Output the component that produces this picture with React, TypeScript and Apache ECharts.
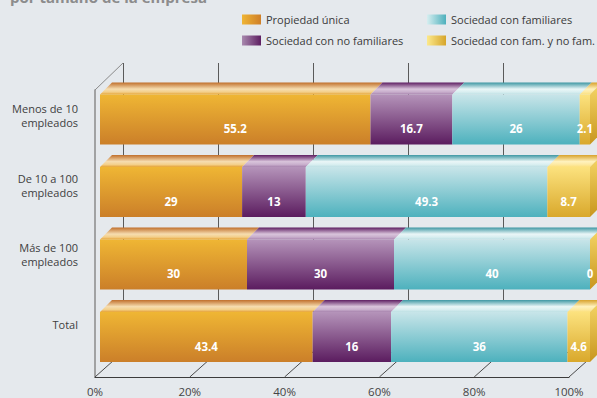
import React, { useEffect, useRef } from 'react';
import * as echarts from 'echarts';

const title = 'por tamaño de la empresa';
const categories = ['Menos de 10\nempleados', 'De 10 a 100\nempleados', 'Más de 100\nempleados', 'Total'];
const seriesNames = ['Propiedad única', 'Sociedad con no familiares', 'Sociedad con familiares', 'Sociedad con fam. y no fam.'];
const propiedadUnica = [55.2, 29, 30, 43.4];
const sociedadNoFamiliares = [16.7, 13, 30, 16];
const sociedadFamiliares = [26, 49.3, 40, 36];
const sociedadMixta = [2.1, 8.7, 0, 4.6];
const xTicks = [0, 20, 40, 60, 80, 100];

const FONT = '"Open Sans", "Noto Sans", sans-serif';
const DEPTH = 12;

const palettes = [
  { front: ['#EFB634', '#CB7F29'], top: ['#C06F2C', '#F6DDB0', '#F3CF8A', '#E6A437'], legend: ['#EFB535', '#CF7F28'] },
  { front: ['#B594BA', '#5B1C5F'], top: ['#5E1E62', '#D9C4DB', '#C8AECC', '#A884AE'], legend: ['#A889AE', '#5E1F62'] },
  { front: ['#C8E5E9', '#4DB1BD'], top: ['#3E97A3', '#EAF6F7', '#D8EEF0', '#BEE0E4'], legend: ['#D6EEF0', '#4DB0BC'] },
  { front: ['#FCE27E', '#D9A82B'], top: ['#D8A22C', '#FFF2BE', '#FDE9A0', '#FCE07C'], legend: ['#FCE98C', '#D6A52A'] },
];
const sideColors = ['#F6D768', '#C8961E'];

function vGrad(stops: string[]) {
  const n = stops.length - 1;
  return new echarts.graphic.LinearGradient(0, 0, 0, 1, stops.map((c, i) => ({ offset: n === 3 && i === 1 ? 0.55 : n === 3 && i === 2 ? 0.8 : i / n, color: c })));
}

function makeRender(pi: number, isLast: boolean) {
  return (params: any, api: any) => {
    const start = api.value(0);
    const end = api.value(1);
    const cat = api.value(2);
    const val = api.value(3);
    const a = api.coord([start, cat]);
    const b = api.coord([end, cat]);
    const band = api.size([0, 1])[1];
    const h = band * 0.69;
    const x0 = a[0];
    const x1 = b[0];
    const yT = a[1] - h / 2;
    const yB = a[1] + h / 2;
    const pal = palettes[pi];
    const children: any[] = [];
    children.push({
      type: 'polygon',
      shape: { points: [[x0, yT], [x1, yT], [x1 + DEPTH, yT - DEPTH], [x0 + DEPTH, yT - DEPTH]] },
      style: { fill: vGrad(pal.top) },
    });
    children.push({
      type: 'rect',
      shape: { x: x0, y: yT, width: Math.max(0, x1 - x0), height: h },
      style: { fill: vGrad(pal.front) },
    });
    if (isLast) {
      children.push({
        type: 'polygon',
        shape: { points: [[x1, yT], [x1 + DEPTH, yT - DEPTH], [x1 + DEPTH, yB - DEPTH], [x1, yB]] },
        style: { fill: vGrad(sideColors) },
      });
    }
    children.push({
      type: 'text',
      x: (x0 + x1) / 2,
      y: yT + h * 0.68,
      style: {
        text: String(val),
        fill: '#ffffff',
        fontSize: 11.5,
        fontWeight: 'bold',
        fontFamily: FONT,
        align: 'center',
        verticalAlign: 'middle',
      },
    });
    return { type: 'group', children };
  };
}

export default function App() {
  const ref = useRef<HTMLDivElement>(null);
  useEffect(() => {
    if (!ref.current) return;
    const chart = echarts.init(ref.current, null, { renderer: 'svg' });
    const valuesBySeries = [propiedadUnica, sociedadNoFamiliares, sociedadFamiliares, sociedadMixta];
    const cum = categories.map(() => 0);
    const barSeries = valuesBySeries.map((vals, si) => {
      const data = vals.map((v, ci) => {
        const s = cum[ci];
        cum[ci] += v;
        return [s, s + v, ci, v];
      });
      return {
        type: 'custom',
        name: seriesNames[si],
        xAxisIndex: 2,
        yAxisIndex: 2,
        z: 3,
        silent: true,
        itemStyle: {
          color: new echarts.graphic.LinearGradient(0, 0, 1, 0, [
            { offset: 0, color: palettes[si].legend[0] },
            { offset: 1, color: palettes[si].legend[1] },
          ]),
        },
        encode: { x: [0, 1], y: 2 },
        renderItem: makeRender(si, si === valuesBySeries.length - 1),
        data,
      };
    });

    const frameData = [...xTicks.map((t) => [t, 0]), [0, 1]];

    const legendCommon = {
      itemWidth: 19,
      itemHeight: 10,
      itemGap: 6,
      icon: 'rect',
      selectedMode: false,
      textStyle: { fontSize: 11, color: '#3a3a3a', fontFamily: FONT },
    };
    const legendSlots = [
      { left: 237, top: 9 },
      { left: 237, top: 30 },
      { left: 422, top: 9 },
      { left: 422, top: 30 },
    ];

    chart.setOption({
      animation: false,
      backgroundColor: '#E5E9ED',
      textStyle: { fontFamily: FONT },
      graphic: [
        {
          type: 'text',
          left: 10,
          top: -11,
          style: { text: title, fill: '#8C8C8C', fontSize: 15, fontWeight: 'bold', fontFamily: FONT },
        },
      ],
      legend: seriesNames.map((n, i) => ({ ...legendCommon, ...legendSlots[i], data: [n] })),
      grid: [
        { left: 123, top: 63, width: 475, height: 289, containLabel: false, outerBoundsMode: 'none' },
        { left: 95, top: 90, width: 474, height: 287, containLabel: false, outerBoundsMode: 'none' },
        { left: 100, top: 83.25, width: 490, height: 290, containLabel: false, outerBoundsMode: 'none' },
        { left: 100, top: 81, width: 490, height: 278, containLabel: false, outerBoundsMode: 'none' },
      ],
      xAxis: [
        {
          gridIndex: 0, type: 'value', min: 0, max: 100, interval: 20, position: 'top',
          axisLine: { show: true, lineStyle: { color: '#5a5a5a', width: 1 } },
          axisTick: { show: false }, axisLabel: { show: false },
          splitLine: { show: true, lineStyle: { color: '#5a5a5a', width: 1 } },
        },
        {
          gridIndex: 1, type: 'value', min: 0, max: 100, interval: 20, position: 'bottom',
          axisLine: { show: true, lineStyle: { color: '#3c3c3c', width: 1 } },
          axisTick: { show: false },
          axisLabel: { formatter: '{value}%', color: '#444', fontSize: 11.5, margin: 8, fontFamily: FONT },
          splitLine: { show: false },
        },
        { gridIndex: 2, type: 'value', min: 0, max: 100, show: false },
        { gridIndex: 3, type: 'value', min: 0, max: 100, show: false },
      ],
      yAxis: [
        { gridIndex: 0, type: 'value', min: 0, max: 1, show: false },
        {
          gridIndex: 1, type: 'value', min: 0, max: 1,
          axisLine: { show: true, lineStyle: { color: '#8a8a8a', width: 1.5 } },
          axisTick: { show: false }, axisLabel: { show: false }, splitLine: { show: false },
        },
        { gridIndex: 2, type: 'category', data: categories, inverse: true, show: false },
        {
          gridIndex: 3, type: 'category', data: categories, inverse: true,
          axisLine: { show: false }, axisTick: { show: false }, splitLine: { show: false },
          axisLabel: { color: '#404040', fontSize: 11, lineHeight: 14, margin: 22, align: 'right', fontFamily: FONT },
        },
      ],
      series: [
        {
          type: 'custom',
          xAxisIndex: 1,
          yAxisIndex: 1,
          z: 1,
          silent: true,
          renderItem: (params: any, api: any) => {
            const t = api.value(0);
            const yv = api.value(1);
            const p = api.coord([t, yv]);
            const dy = yv === 1 ? -27 : -25;
            return {
              type: 'line',
              shape: { x1: p[0], y1: p[1], x2: p[0] + 28, y2: p[1] + dy },
              style: { stroke: yv === 1 ? '#8a8a8a' : '#4a4a4a', lineWidth: 1 },
            };
          },
          data: frameData,
        },
        ...barSeries,
      ],
    });
    return () => chart.dispose();
  }, []);
  return <div ref={ref} style={{ position: 'fixed', left: 0, top: 0, width: 597, height: 398 }} />;
}
